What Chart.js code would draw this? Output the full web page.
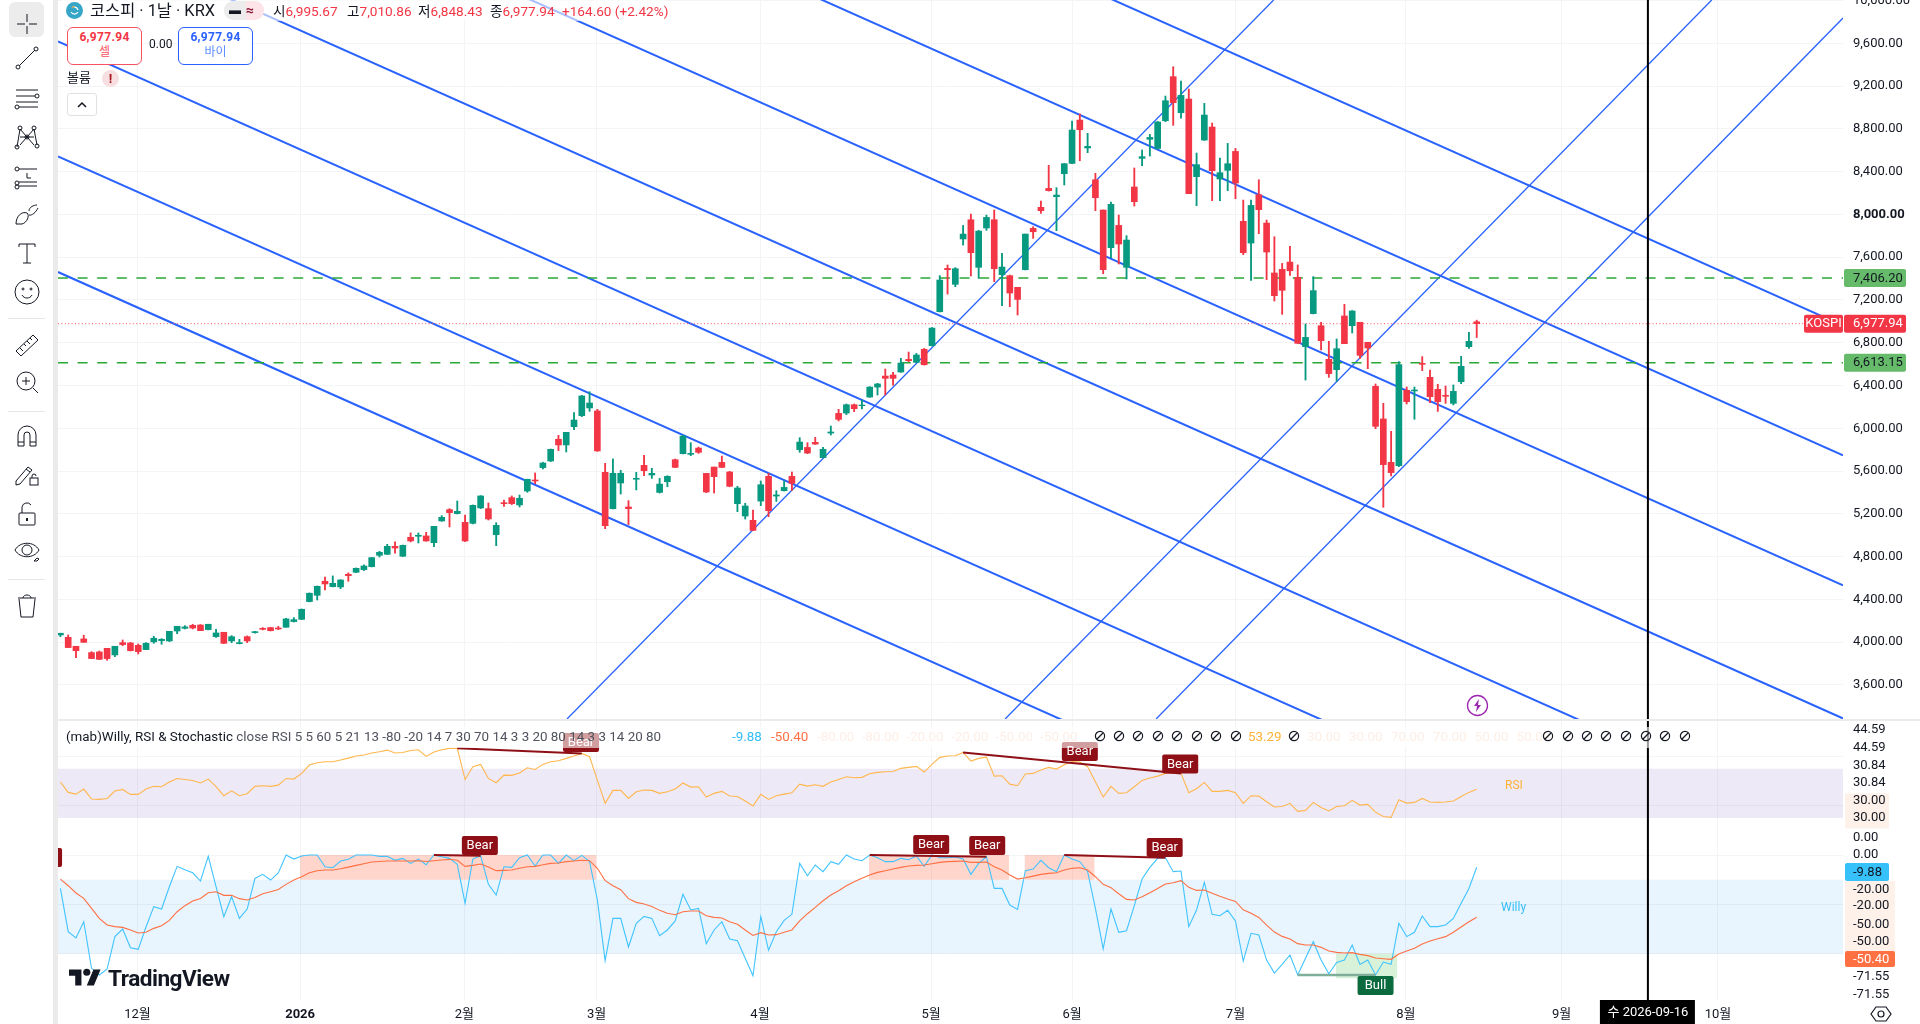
<!DOCTYPE html>
<html lang="ko">
<head>
<meta charset="utf-8">
<title>코스피</title>
<script src="https://cdn.jsdelivr.net/npm/chart.js@4"></script>
<style>
html, body { margin: 0; padding: 0; background: #fff; overflow: hidden; }
body { width: 1920px; height: 1024px; position: relative; font-family: Roboto, "Noto Sans CJK KR", sans-serif; color: #131722; }
canvas { position: absolute; display: block; }
#mainChart { left: 58px; top: 0; }
#lowerChart { left: 58px; top: 721px; }
.abs { position: absolute; white-space: nowrap; }
.strip { position: absolute; background: #ebebec; }
.tool { position: absolute; left: 12px; width: 30px; height: 30px; fill: none; stroke: #131722; stroke-width: 1; }
.box { position: absolute; top: 27px; width: 73px; height: 34px; border-radius: 6px; background: #fff; text-align: center; font-size: 12px; line-height: 15px; padding-top: 2px; box-sizing: content-box; }
.faint { color: #fdeee6; }
.no { position: absolute; top: 730px; width: 12px; height: 12px; }
.ohlc { position: absolute; top: 1px; font-size: 13.6px; line-height: 20px; color: #f23645; white-space: nowrap; }
.ohlc i { font-style: normal; color: #131722; }
</style>
</head>
<body>
<canvas id="mainChart" width="1862" height="719"></canvas>
<canvas id="lowerChart" width="1862" height="303"></canvas>

<div class="strip" style="left:53px;top:0;width:5px;height:1024px"></div>
<div class="strip" style="left:58px;top:719px;width:1862px;height:2px"></div>

<div class="abs" style="left:9px;top:2px;width:35px;height:35px;background:#ececec;border-radius:6px"></div>
<svg class="tool" style="top:9px" viewBox="0 0 30 30"><path d="M15 5v8M15 17v8M5 15h8M17 15h8"/></svg>
<svg class="tool" style="top:43px" viewBox="0 0 30 30"><path d="M7 23L23 7"/><circle cx="6" cy="24" r="2"/><circle cx="24" cy="6" r="2"/></svg>
<svg class="tool" style="top:83px" viewBox="0 0 30 30"><path d="M4 7h22M4 13h19M4 19h22M7 24h19"/><circle cx="25" cy="13" r="2"/><circle cx="5" cy="24" r="2"/></svg>
<svg class="tool" style="top:122px" viewBox="0 0 30 30"><path d="M8 7L5 25M8 7l14 16M22 7L8 23M22 7l3 16M8 15h14"/><circle cx="8" cy="6" r="2"/><circle cx="22" cy="6" r="2"/><circle cx="5" cy="25" r="2"/><circle cx="25" cy="24" r="2"/><circle cx="15" cy="15" r="2"/></svg>
<svg class="tool" style="top:162px" viewBox="0 0 30 30"><path d="M7 7h18M7 20h18M7 24h18M15 11v5h4"/><circle cx="5" cy="7" r="2"/><circle cx="5" cy="21" r="2"/><circle cx="5" cy="25" r="2"/></svg>
<svg class="tool" style="top:200px" viewBox="0 0 30 30"><path d="M4 24c0-8 6-13 11-11 3 2 0 10-5 11H4M17 11c0-4 5-6 8-6M17 15c3 1 7-3 9-7"/></svg>
<svg class="tool" style="top:238px" viewBox="0 0 30 30"><path d="M7 6h16M7 6v3M23 6v3M15 6v19M11 25h8"/></svg>
<svg class="tool" style="top:277px" viewBox="0 0 30 30"><circle cx="15" cy="15" r="12"/><circle cx="11" cy="12" r="1"/><circle cx="19" cy="12" r="1"/><path d="M10 18c2 4 8 4 10 0"/></svg>
<div class="abs" style="left:8px;top:318px;width:37px;height:1px;background:#e6e6e6"></div>
<svg class="tool" style="top:330px" viewBox="0 0 30 30"><path d="M4 21L21 5l5 5L9 26zM8 18l3 3M12 14l2 2M15 11l3 3M18 8l2 2"/></svg>
<svg class="tool" style="top:368px" viewBox="0 0 30 30"><circle cx="14" cy="13" r="9"/><path d="M14 9v8M10 13h8M21 20l5 5"/></svg>
<div class="abs" style="left:8px;top:411px;width:37px;height:1px;background:#e6e6e6"></div>
<svg class="tool" style="top:421px" viewBox="0 0 30 30"><path d="M6 25V14a9 9 0 0 1 18 0v11h-6V14a3 3 0 0 0-6 0v11zM6 21h6M18 21h6"/></svg>
<svg class="tool" style="top:460px" viewBox="0 0 30 30"><path d="M4 21L16 7l4 3L8 24l-4 1zM14 9l4 3"/><rect x="18" y="18" width="8" height="7"/><path d="M20 18v-2a2 2 0 0 1 4 0"/></svg>
<svg class="tool" style="top:499px" viewBox="0 0 30 30"><rect x="7" y="14" width="16" height="12" rx="1"/><path d="M10 14V8a5 5 0 0 1 9-2"/><path d="M15 19v3" stroke-width="2"/></svg>
<svg class="tool" style="top:535px" viewBox="0 0 30 30"><path d="M3 15c5-9 19-9 24 0-5 9-19 9-24 0z"/><circle cx="15" cy="15" r="5"/><path d="M22 26l3-3 2 1-2 2z"/></svg>
<div class="abs" style="left:8px;top:579px;width:37px;height:1px;background:#e6e6e6"></div>
<svg class="tool" style="top:591px" viewBox="0 0 30 30"><path d="M7 8l2 18h12l2-18M6 7h18M11 7c0-4 8-4 8 0"/></svg>

<div class="abs" style="left:62px;top:0;width:604px;height:21px;background:rgba(255,255,255,.6)"></div>
<svg class="abs" style="left:66px;top:2px" width="17" height="17" viewBox="0 0 17 17"><circle cx="8.5" cy="8.5" r="8.5" fill="#35a6c8"/><path d="M5 10a4 4 0 0 0 7 0M8 5a4 4 0 0 1 4 3" fill="none" stroke="#fff" stroke-width="1.2"/><path d="M6 5.5a4 4 0 0 1 3-1" fill="none" stroke="#f5b041" stroke-width="1.2"/></svg>
<div class="abs" style="left:90px;top:1px;font-size:16.4px;line-height:20px">코스피 · 1날 · KRX</div>
<div class="abs" style="left:224px;top:1px;width:22px;height:19px;background:#ececec;border-radius:9px 0 0 9px;font-size:12px;line-height:18px;text-align:center;font-weight:700">▬</div>
<div class="abs" style="left:246px;top:1px;width:18px;height:19px;background:#fce4e8;border-radius:0 9px 9px 0;font-size:14px;line-height:18px;color:#880e2f;font-weight:700">≈</div>
<div class="ohlc" style="left:273px"><i>시</i>6,995.67</div>
<div class="ohlc" style="left:347px"><i>고</i>7,010.86</div>
<div class="ohlc" style="left:418px"><i>저</i>6,848.43</div>
<div class="ohlc" style="left:490px"><i>종</i>6,977.94</div>
<div class="ohlc" style="left:562px">+164.60 (+2.42%)</div>
<div class="box" style="left:67px;border:1px solid #f7525f;color:#f23645"><b style="letter-spacing:.3px">6,977.94</b><br><span style="color:#f7525f">셀</span></div>
<div class="abs" style="left:149px;top:36px;font-size:12px;line-height:16px">0.00</div>
<div class="box" style="left:178px;border:1px solid #2962ff;color:#2962ff"><b style="letter-spacing:.3px">6,977.94</b><br><span style="color:#5b8cff">바이</span></div>
<div class="abs" style="left:67px;top:69px;font-size:13px;line-height:18px">볼륨</div>
<div class="abs" style="left:102px;top:70px;width:17px;height:17px;border-radius:50%;background:#f7dfe1;color:#a8121c;font-size:13px;font-weight:700;line-height:17px;text-align:center">!</div>
<div class="abs" style="left:67px;top:93px;width:28px;height:21px;border:1px solid #dfe1e5;border-radius:3px;background:#fff">
<svg width="28" height="21" style="display:block"><path d="M10 13l4-4 4 4" fill="none" stroke="#131722" stroke-width="1.5"/></svg></div>

<svg class="abs" style="left:1466px;top:694px" width="23" height="23" viewBox="0 0 23 23"><circle cx="11.5" cy="11.5" r="10" fill="#fff" stroke="#9c27b0" stroke-width="1.3"/><path d="M13 5l-5 7h3l-1 6 5-7h-3z" fill="#9c27b0"/></svg>

<div class="abs" style="left:60px;top:727px;width:1640px;height:21px;background:rgba(255,255,255,.6)"></div>
<div class="abs" style="left:66px;top:727px;font-size:13.4px;line-height:19px;color:#131722">(mab)Willy, RSI &amp; Stochastic <span style="color:#50535e">close RSI 5 5 60 5 21 13 -80 -20 14 7 30 70 14 3 3 20 80 14 3 3 14 20 80</span></div>
<div class="abs" style="left:732px;top:727px;font-size:13.4px;line-height:19px;color:#36bdf5">-9.88</div>
<div class="abs" style="left:771px;top:727px;font-size:13.4px;line-height:19px;color:#ff7043">-50.40</div>
<div class="abs faint" style="left:817px;top:727px;font-size:13.4px;line-height:19px;word-spacing:4px">-80.00 -80.00 -20.00 -20.00 -50.00 -50.00</div>
<div class="abs" style="left:1248px;top:727px;font-size:13.4px;line-height:19px;color:#ffb238">53.29</div>
<div class="abs faint" style="left:1307px;top:727px;font-size:13.4px;line-height:19px;word-spacing:5px">30.00 30.00 70.00 70.00 50.00 50.00</div>
<div id="noMarks"></div>
<div class="abs" style="left:1505px;top:778px;font-size:12px;color:#ffb238">RSI</div>
<div class="abs" style="left:1501px;top:900px;font-size:12px;color:#36bdf5">Willy</div>

<svg class="abs" style="left:69px;top:966px" width="32" height="25" viewBox="0 0 36 28"><path d="M14 22H7V11H0V4h14v18zM28 22h-8l7.5-18h8L28 22z" fill="#131722"/><circle cx="20" cy="7" r="4" fill="#131722"/></svg>
<div class="abs" style="left:108px;top:966px;font-size:22.6px;line-height:26px;font-weight:700;letter-spacing:-.5px;color:#131722">TradingView</div>

<svg class="abs" style="left:1869px;top:1002px" width="24" height="24" viewBox="0 0 24 24"><path d="M7 5h10l5 7-5 7H7l-5-7z" fill="none" stroke="#131722" stroke-width="1.2"/><circle cx="12" cy="12" r="3" fill="none" stroke="#131722" stroke-width="1.2"/></svg>

<script>
// candles
const opens = [4067,4045,3961,4030,3902,3908,3942,3880,3995,3992,3970,3930,4002,4014,4011,4104,4129,4157,4160,4117,4051,4092,4011,3986,4051,4089,4129,4136,4132,4139,4192,4213,4379,4438,4569,4519,4516,4634,4653,4678,4706,4812,4821,4896,4803,4980,4990,4993,4930,5133,5239,5202,5120,5111,5255,5248,5005,5304,5351,5283,5413,5516,5632,5694,5897,5844,6015,6118,6190,6162,5588,5248,5488,5264,5523,
5653,5563,5400,5500,5706,5762,5756,5815,5578,5637,5681,5591,5295,5179,5139,5319,5550,5366,5416,5550,5800,5821,5868,5725,5955,6139,6142,6220,6211,6292,6385,6488,6498,6526,6644,6616,6738,
6772,7090,7495,7346,7770,7950,7505,7873,7950,7436,7427,7318,7483,7869,8066,8243,8166,8381,8477,8882,8621,8324,8041,7689,7897,7505,8256,8524,8702,8617,8876,9288,8951,9079,8353,8695,8817,8331,8412,8589,7935,7732,8184,7919,7452,7486,7554,7411,
6763,7072,6959,6645,6548,7050,6959,6991,6804,6392,6087,5681,5650,6355,6349,6607,6476,6364,6308,6233,6436,6763,6995.67];
const highs = [4083,4067,3961,4064,3911,3917,3942,3961,4020,3998,3983,3995,4054,4033,4101,4148,4154,4167,4164,4167,4120,4092,4061,4026,4058,4101,4136,4139,4148,4223,4229,4310,4460,4525,4609,4619,4584,4647,4694,4722,4793,4849,4915,4937,4908,5021,5021,5027,5083,5183,5248,5320,5189,5283,5370,5301,5117,5329,5367,5376,5523,5582,5682,5806,5934,5962,6146,6308,6342,6177,5672,5713,5607,5323,5588,
5747,5625,5531,5556,5712,5934,5865,5824,5578,5637,5740,5597,5457,5298,5235,5507,5578,5416,5507,5591,5912,5865,5915,5821,6021,6177,6227,6227,6264,6389,6420,6554,6523,6654,6713,6700,6747,
6941,7427,7527,7502,7897,8003,7851,7994,8041,7636,7433,7318,7816,7885,8125,8459,8250,8477,8873,8939,8758,8384,8041,8116,7994,7801,8434,8602,8748,8870,9107,9381,9247,9172,8574,9038,8854,8527,8664,8617,8134,8134,8324,7947,7791,7542,7701,7527,
6975,7418,6991,6813,6835,7159,7100,6991,6804,6414,6233,5971,6623,6386,6386,6670,6545,6411,6395,6405,6673,6897,7010.86];
const lows = [4051,3949,3855,3998,3846,3836,3830,3864,3967,3917,3889,3930,3989,3980,4005,4079,4123,4123,4107,4114,4045,3986,3995,3983,3995,4083,4114,4104,4117,4139,4188,4210,4376,4394,4488,4516,4500,4569,4650,4669,4703,4796,4818,4831,4799,4937,4927,4943,4893,5130,5077,5198,4940,5105,5248,5142,4902,5270,5286,5264,5401,5482,5619,5688,5791,5778,5987,6109,6158,5784,5061,5245,5385,5099,5423,
5556,5531,5394,5453,5631,5759,5743,5765,5397,5394,5631,5453,5220,5151,5042,5276,5173,5316,5413,5419,5775,5762,5849,5722,5937,6068,6127,6155,6180,6289,6311,6311,6404,6523,6622,6613,6591,
6769,7087,7255,7324,7713,7424,7402,7851,7371,7146,7137,7059,7480,7776,8010,8218,7848,8275,8474,8502,8577,8035,7445,7595,7536,7396,8078,8455,8546,8611,8867,8833,8901,8194,8081,8692,8128,8128,8222,8147,7623,7383,7820,7389,7190,7065,7430,6794,
6451,7069,6732,6476,6439,6791,6891,6654,6557,5996,5261,5554,5641,6227,6084,6539,6240,6158,6233,6218,6417,6747,6848.43];
const closes = [4083,3949,3920,3998,3846,3839,3846,3961,3977,3920,3911,3989,4036,4026,4101,4148,4142,4132,4107,4167,4086,3989,4051,3995,4011,4098,4120,4107,4123,4217,4210,4307,4457,4522,4544,4550,4581,4622,4690,4712,4790,4840,4896,4880,4905,4946,4999,4946,5083,5167,5211,5223,4946,5279,5367,5152,5092,5295,5295,5345,5523,5507,5675,5803,5844,5962,6077,6302,6236,5788,5089,5579,5579,5248,5532,
5603,5578,5478,5550,5634,5927,5765,5775,5404,5547,5634,5457,5441,5273,5045,5472,5229,5376,5447,5485,5871,5768,5852,5803,5965,6083,6220,6183,6217,6385,6414,6467,6467,6610,6632,6685,6594,
6937,7386,7483,7492,7816,7642,7844,7972,7492,7508,7265,7205,7816,7838,8035,8222,8181,8474,8789,8792,8636,8156,7483,8094,7723,7760,8119,8540,8720,8864,9063,9045,9113,8194,8465,8929,8409,8390,8474,8293,7642,8084,8044,7648,7240,7290,7473,6794,
6850,7287,6819,6511,6744,6791,7097,6682,6751,6018,5660,5585,6595,6249,6358,6598,6295,6249,6299,6345,6579,6813,6977.94];

// indicators
const rsi = [59.2,50.8,49.4,53.5,45.4,45.1,45.9,51.9,53.2,49.2,49.2,53.5,55.7,55.4,59.2,62.1,61.3,60.5,58.4,61.6,55.4,48.1,52.1,48.1,49.7,55.7,56.2,55.7,56.7,62.1,61.6,66.2,73.0,74.8,75.7,75.7,77.0,78.6,80.3,81.1,82.7,83.8,85.1,82.7,83.2,84.8,85.4,80.0,83.5,85.4,86.5,86.5,61.3,71.6,73.5,62.1,58.6,64.8,64.6,66.5,70.8,69.4,73.5,75.7,76.5,78.4,80.3,82.4,79.7,60.8,41.9,52.4,52.4,45.9,51.3,52.7,52.4,50.0,51.3,53.5,58.4,
55.1,55.4,47.0,50.0,51.6,47.8,47.5,43.8,39.7,49.2,45.1,48.1,49.4,50.5,57.5,55.9,57.0,55.7,59.2,61.3,63.5,62.7,63.0,65.9,67.0,67.5,67.8,70.3,71.1,71.9,67.3,73.5,79.2,80.3,80.5,83.2,76.2,78.4,79.4,64.0,64.3,57.5,56.2,65.7,66.2,68.9,71.1,69.7,73.2,75.9,75.4,71.6,59.4,47.0,55.7,50.0,50.5,55.4,60.5,62.4,64.0,66.2,66.7,66.2,50.5,53.8,58.9,51.6,51.6,52.4,50.5,41.9,48.1,47.8,43.2,38.9,39.4,41.9,35.4,36.2,42.7,
38.6,35.7,39.4,40.0,44.3,40.5,41.1,34.8,31.3,30.5,44.8,42.1,42.7,45.9,43.0,42.7,43.0,43.8,47.5,50.8,53.29];
const willy = [-27.1,-62.2,-67.3,-54.1,-91.9,-97.3,-92.5,-66.2,-60.0,-75.2,-76.5,-58.4,-41.9,-43.8,-25.7,-9.2,-11.9,-14.4,-21.1,-1.1,-25.7,-50.0,-33.8,-51.4,-43.8,-19.0,-15.7,-20.3,-14.6,0,-3.3,-0.8,0,0,-9.5,-10.3,-4.9,-3.5,0,0,0,-1.1,-1.1,-4.3,-2.7,-6.8,-3.3,-7.9,0,-1.4,-2.7,-7.6,-39.2,-3.3,-0.6,-23.8,-32.5,-9.5,-10.0,-2.2,0,-8.9,0,0,-6.8,0,-4.6,-0.3,-5.4,-36.5,-85.7,-51.4,-51.4,-74.6,-55.4,-49.8,-51.4,-65.4,-60.8,-53.5,-31.9,
-44.6,-43.3,-71.9,-60.8,-54.1,-68.1,-69.5,-83.8,-97.9,-50.0,-77.3,-62.2,-53.0,-48.1,-6.8,-16.8,-8.1,-13.5,-5.4,-7.6,0,-3.3,-4.6,0,-2.2,-5.4,-5.4,-2.7,-3.8,-0.8,-9.2,0,-2.2,-2.2,-1.6,-3.3,-15.7,-6.8,-1.4,-27.1,-27.1,-40.6,-44.1,-12.7,-11.4,-4.3,-10.3,-13.5,0,-3.3,-5.4,-13.5,-43.3,-76.2,-43.8,-62.7,-61.4,-41.1,-19.5,-10.0,-2.7,-2.2,-13.5,-13.0,-58.1,-44.6,-22.2,-48.1,-49.2,-44.9,-53.5,-86.0,-63.5,-64.9,-85.2,-95.7,-88.7,-81.1,-97.3,-83.8,-70.3,
-85.2,-96.3,-87.1,-85.2,-73.0,-88.7,-85.2,-97.3,-86.8,-88.7,-55.4,-66.2,-62.7,-49.5,-58.1,-58.1,-56.8,-51.4,-39.2,-27.1,-9.88];
const willySignal = [-19.5,-24.9,-30.8,-35.2,-43.3,-51.4,-56.8,-58.1,-58.7,-60.8,-63.3,-62.7,-59.5,-57.3,-53.0,-46.0,-41.1,-37.3,-35.2,-30.6,-29.8,-32.7,-32.7,-35.4,-36.5,-34.4,-31.4,-29.8,-27.9,-23.8,-20.3,-17.6,-14.4,-12.7,-12.2,-12.2,-11.1,-9.8,-8.4,-7.1,-5.7,-5.2,-4.9,-4.9,-4.9,-4.9,-4.6,-5.2,-4.6,-4.1,-3.5,-4.3,-9.2,-8.4,-7.3,-9.8,-12.7,-12.5,-12.2,-10.8,-9.5,-9.2,-7.9,-6.8,-6.5,-5.4,-4.9,-4.3,-4.6,-10.8,-20.8,-24.9,-28.1,-35.4,-38.4,-39.8,-41.7,-44.9,-47.3,-48.4,-46.0,
-45.4,-45.4,-49.2,-50.6,-51.1,-54.1,-56.2,-60.8,-65.2,-63.0,-64.9,-64.6,-62.7,-60.8,-53.5,-47.6,-42.5,-37.1,-32.5,-29.0,-24.9,-21.7,-18.9,-16.2,-14.1,-12.7,-11.4,-10.0,-8.9,-8.4,-8.1,-7.1,-6.0,-5.4,-5.2,-4.9,-6.0,-6.0,-5.7,-9.5,-12.2,-16.2,-19.5,-18.4,-17.1,-15.7,-14.9,-14.4,-12.2,-10.8,-10.3,-12.2,-17.6,-23.8,-26.5,-31.4,-36.0,-36.5,-33.8,-30.6,-27.1,-23.5,-22.5,-20.8,-26.2,-28.7,-28.4,-31.1,-33.5,-35.7,-37.6,-44.4,-47.3,-50.6,-56.8,-62.5,-66.0,-68.1,-71.9,-73.0,-73.0,
-74.9,-77.9,-79.0,-79.5,-79.2,-80.6,-81.6,-83.5,-84.1,-84.6,-80.3,-77.9,-75.7,-72.2,-69.8,-67.9,-66.2,-62.7,-58.4,-54.1,-50.40];

// drawings: [bar, price, bar, price]
const channelDown = [[-0.31,7461,229.07,15],[-0.31,8543,229.07,1100],[-0.31,9617,229.07,2172],[-0.31,10731,229.07,3286],[-0.31,11978,229.07,4532],[-0.31,13194,229.07,5746],[-0.31,14410,229.07,6960]];
const channelUp = [[65.1,3281,155.9,10005],[121.4,3281,212.2,10005],[140.8,3281,229.07,9837]];
const levels = [7406.20, 6613.15];
const lastPrice = 6977.94;
const cursorBar = 204;
const cursorLabel = '수 2026-09-16';

// indicator drawings
const divergences = [[51,86.5,67,82.4],[116,83.2,144,66.2],[48,0,54,-0.6],[104,0,119,-1.4],[129,0,142,-2.2]];
const bullLine = [159,-97.3,169,-97.3];
const bearTags = [[66.9,91.2],[131,83.9],[143.9,73.8],[53.9,7.7],[111.9,8.5],[119.1,7.7],[141.9,6.1],[-2.1,-2]];
const bullTags = [[169,-105.8]];
const bearZones = [[30.8,68.9],[103.9,121.9],[123.9,132.9]];
const bullZones = [[163.9,171.8]];

// axes
const monthBars = [9.9,30.8,51.9,68.9,89.9,111.9,130,151,172.9,192.9,213];
const monthLabels = ['12월','2026','2월','3월','4월','5월','6월','7월','8월','9월','10월'];
const priceTicks = [3600,4000,4400,4800,5200,5600,6000,6400,6800,7200,7600,8000,8400,8800,9200,9600,10000];
const lowerTickValues = [101.4,86.8,72.2,58.4,43.8,30,13.8,0,-28.4,-41.4,-56.8,-70.6,-98.9,-113.5];
const lowerTickLabels = ['44.59','44.59','30.84','30.84','30.00','30.00','0.00','0.00','-20.00','-20.00','-50.00','-50.00','-71.55','-71.55'];
const lowerGrid = [80,40,0,-40,-80];

const xMin = -0.31, xMax = 229.07;
const mainMin = 3281, mainMax = 10005;
const lowerMin = -117.6, lowerMax = 108.7;

const RED = '#f23645', TEAL = '#089981', BLUE = '#2962ff', GRID = '#f3f4f6', INK = '#131722';
const FONT = 'Roboto, "Noto Sans CJK KR", sans-serif';

Chart.defaults.font.family = FONT;
Chart.defaults.font.size = 13;
Chart.defaults.color = INK;

const bars = opens.map((_, i) => i);
const candleColors = bars.map(i => closes[i] < opens[i] ? RED : TEAL);

function seg(s, color, width, dash, order) {
    return {
        type: 'line', data: [{ x: s[0], y: s[1] }, { x: s[2], y: s[3] }],
        borderColor: color, borderWidth: width, borderDash: dash || [], pointRadius: 0, tension: 0, order
    };
}
function band(x1, x2, top, bottom, color, order) {
    return {
        type: 'line', data: [{ x: x1, y: top }, { x: x2, y: top }],
        borderWidth: 0, pointRadius: 0, backgroundColor: color, fill: { value: bottom }, order
    };
}
function series(values, color) {
    return { type: 'line', data: bars.map(i => ({ x: i, y: values[i] })), borderColor: color, borderWidth: 1.1, pointRadius: 0, tension: 0, order: 3 };
}
// the tick labels must not push the plot in from the canvas edges
function noInset(s) {
    s.paddingTop = 0; s.paddingBottom = 0; s.paddingLeft = 0; s.paddingRight = 0;
}
function xScale(extra) {
    return Object.assign({
        type: 'linear', min: xMin, max: xMax, offset: false,
        grid: { color: GRID, drawTicks: false, offset: false },
        border: { display: false },
        afterBuildTicks: s => { s.ticks = monthBars.map(value => ({ value })); }
    }, extra);
}

function drawTag(ctx, x, y, w, h, bg, fg, text, pad) {
    ctx.fillStyle = bg;
    ctx.beginPath();
    ctx.roundRect(x, y - h / 2, w, h, 2);
    ctx.fill();
    if (!text) return;
    ctx.fillStyle = fg;
    ctx.font = '13px ' + FONT;
    ctx.textBaseline = 'middle';
    ctx.textAlign = pad ? 'left' : 'center';
    ctx.fillText(text, pad ? x + pad : x + w / 2, y + 0.5);
}

const mainTags = {
    id: 'mainTags',
    afterDraw(chart) {
        const { ctx, chartArea: a, scales: { y } } = chart;
        ctx.save();
        levels.forEach(v => {
            drawTag(ctx, a.right + 1, y.getPixelForValue(v), 62, 18, '#66bb6a', INK, v.toLocaleString('en-US', { minimumFractionDigits: 2 }), 9);
        });
        const py = y.getPixelForValue(lastPrice);
        drawTag(ctx, a.right + 1, py, 62, 18, RED, '#fff', lastPrice.toLocaleString('en-US', { minimumFractionDigits: 2 }), 9);
        drawTag(ctx, a.right - 39, py, 39, 18, RED, '#fff', 'KOSPI');
        ctx.restore();
    }
};

const lowerTags = {
    id: 'lowerTags',
    beforeDraw(chart) {
        const { ctx, chartArea: a, scales: { y } } = chart;
        ctx.save();
        ctx.fillStyle = '#fdf1e9';
        const p = v => y.getPixelForValue(v);
        ctx.fillRect(a.right + 2, p(50), 44, 35);
        ctx.fillRect(a.right + 2, p(-21), 50, 71);
        ctx.restore();
    },
    afterDraw(chart) {
        const { ctx, chartArea: a, scales: { x, y } } = chart;
        ctx.save();
        drawTag(ctx, a.right + 2, y.getPixelForValue(-13.8), 44, 18, '#36c1fb', INK, '-9.88', 8);
        drawTag(ctx, a.right + 2, y.getPixelForValue(-84.3), 50, 16, '#ff7043', '#fff', '-50.40', 8);
        const tag = (t, text, bg) => {
            drawTag(ctx, x.getPixelForValue(t[0]) - 18, y.getPixelForValue(t[1]), 36, 19, bg, '#fff', text);
        };
        bearTags.forEach(t => tag(t, 'Bear', '#8e1016'));
        bullTags.forEach(t => tag(t, 'Bull', '#0b6b3f'));
        const cx = x.getPixelForValue(cursorBar);
        ctx.fillStyle = '#000';
        ctx.fillRect(cx - 48, a.bottom, 95, 24);
        ctx.fillStyle = '#fff';
        ctx.font = '13px ' + FONT;
        ctx.textAlign = 'center';
        ctx.textBaseline = 'middle';
        ctx.fillText(cursorLabel, cx, a.bottom + 13);
        ctx.restore();
    }
};

new Chart(document.getElementById('mainChart'), {
    type: 'bar',
    data: {
        datasets: [
            ...channelDown.map(s => seg(s, BLUE, 2, null, 6)),
            ...channelUp.map(s => seg(s, BLUE, 1.3, null, 6)),
            ...levels.map(v => seg([xMin, v, xMax, v], '#2aa834', 1.5, [10, 9.6], 5)),
            seg([xMin, lastPrice, xMax, lastPrice], '#f7525f', 1, [1, 2.4], 5),
            seg([cursorBar, mainMin, cursorBar, mainMax], '#000', 2, null, 4),
            { label: 'wick', data: bars.map(i => ({ x: i, y: [lows[i], highs[i]] })), backgroundColor: candleColors, barThickness: 1.2, grouped: false, order: 2 },
            { label: 'body', data: bars.map(i => ({ x: i, y: [Math.min(opens[i], closes[i]), Math.max(opens[i], closes[i])] })), backgroundColor: candleColors, barThickness: 6, grouped: false, order: 1 }
        ]
    },
    options: {
        responsive: false, animation: false, devicePixelRatio: 1,
        layout: { padding: 0 },
        plugins: { legend: { display: false }, tooltip: { enabled: false } },
        events: [],
        scales: {
            x: xScale({ ticks: { display: false }, afterFit: s => { s.height = 0; noInset(s); } }),
            y: {
                type: 'linear', position: 'right', min: mainMin, max: mainMax,
                grid: { color: GRID, drawTicks: false },
                border: { display: false },
                ticks: {
                    padding: 10, crossAlign: 'near',
                    font: ctx => ctx.tick && ctx.tick.value === 8000 ? { weight: '700', size: 13 } : { size: 13 },
                    callback: v => v.toLocaleString('en-US', { minimumFractionDigits: 2 })
                },
                afterBuildTicks: s => { s.ticks = priceTicks.map(value => ({ value })); },
                afterFit: s => { s.width = 77; noInset(s); }
            }
        }
    },
    plugins: [mainTags]
});

new Chart(document.getElementById('lowerChart'), {
    type: 'line',
    data: {
        datasets: [
            band(xMin, xMax, 70, 30, 'rgba(126,87,194,0.13)', 9),
            band(xMin, xMax, -20, -80, 'rgba(33,150,243,0.10)', 9),
            ...bearZones.map(z => band(z[0], z[1], 0, -20, 'rgba(255,87,51,0.25)', 8)),
            ...bullZones.map(z => band(z[0], z[1], -80, -100, 'rgba(76,195,80,0.22)', 8)),
            seg([cursorBar, lowerMin, cursorBar, lowerMax], '#000', 2, null, 7),
            series(rsi, '#ffb74d'),
            series(willySignal, '#ff7043'),
            series(willy, '#40c4ff'),
            ...divergences.map(s => seg(s, '#8e1016', 2, null, 2)),
            seg(bullLine, '#7fae9b', 2.5, null, 2)
        ]
    },
    options: {
        responsive: false, animation: false, devicePixelRatio: 1,
        layout: { padding: 0 },
        plugins: { legend: { display: false }, tooltip: { enabled: false } },
        events: [],
        scales: {
            x: xScale({
                ticks: {
                    autoSkip: false, maxRotation: 0, padding: 7,
                    font: ctx => ctx.tick && ctx.tick.value === monthBars[1] ? { weight: '700', size: 13 } : { size: 13 },
                    callback: v => monthLabels[monthBars.indexOf(v)]
                },
                afterFit: s => { s.height = 24; noInset(s); }
            }),
            y: {
                type: 'linear', position: 'right', min: lowerMin, max: lowerMax,
                border: { display: false },
                grid: { drawTicks: false, color: ctx => lowerGrid.includes(ctx.tick.value) ? GRID : 'transparent' },
                ticks: {
                    autoSkip: false, padding: 10, crossAlign: 'near',
                    callback: v => {
                        const i = lowerTickValues.indexOf(v);
                        return i < 0 ? '' : lowerTickLabels[i];
                    }
                },
                afterBuildTicks: s => {
                    const all = [...new Set([...lowerTickValues, ...lowerGrid])];
                    s.ticks = all.map(value => ({ value }));
                },
                afterFit: s => { s.width = 77; noInset(s); }
            }
        }
    },
    plugins: [lowerTags]
});

// empty study values in the legend row
[1100,1119,1138,1158,1177,1197,1216,1236,1294,1548,1568,1587,1606,1626,1646,1665,1685].forEach(x => {
    document.getElementById('noMarks').insertAdjacentHTML('beforeend',
        '<svg class="no" style="left:' + (x - 6) + 'px" viewBox="0 0 12 12"><circle cx="6" cy="6" r="4.6" fill="none" stroke="#131722" stroke-width="1.2"/><path d="M3 9l6-6" stroke="#131722" stroke-width="1.2"/></svg>');
});
</script>
</body>
</html>
